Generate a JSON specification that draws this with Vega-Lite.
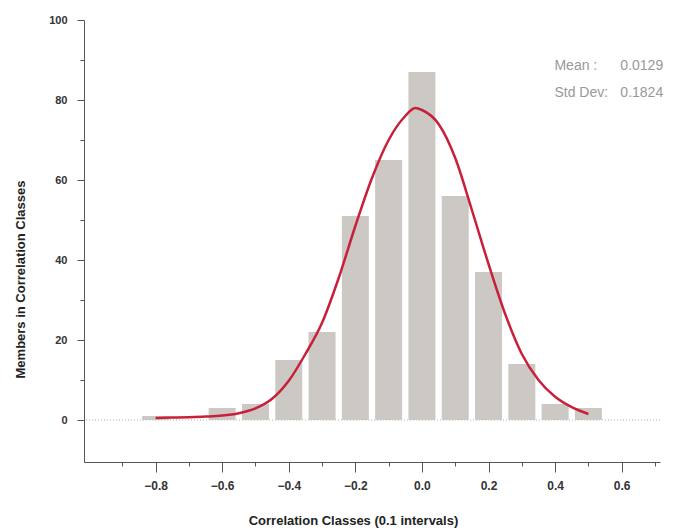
{
  "$schema": "https://vega.github.io/schema/vega-lite/v6.json",
  "width": 576,
  "height": 442,
  "autosize": {"type": "none"},
  "padding": {"left": 84, "top": 20, "right": 16, "bottom": 68},
  "background": "white",
  "config": {"view": {"stroke": null}, "font": "Liberation Sans"},
  "datasets": {
    "bars": [
      {"cls": -0.8, "count": 1},
      {"cls": -0.6, "count": 3},
      {"cls": -0.5, "count": 4},
      {"cls": -0.4, "count": 15},
      {"cls": -0.3, "count": 22},
      {"cls": -0.2, "count": 51},
      {"cls": -0.1, "count": 65},
      {"cls": 0.0, "count": 87},
      {"cls": 0.1, "count": 56},
      {"cls": 0.2, "count": 37},
      {"cls": 0.3, "count": 14},
      {"cls": 0.4, "count": 4},
      {"cls": 0.5, "count": 3}
    ],
    "curve": [
      {"x": -0.8, "y": 0.5},
      {"x": -0.75, "y": 0.6},
      {"x": -0.7, "y": 0.7},
      {"x": -0.65, "y": 0.85},
      {"x": -0.6, "y": 1.1},
      {"x": -0.55, "y": 1.7},
      {"x": -0.5, "y": 2.9},
      {"x": -0.45, "y": 5.3},
      {"x": -0.4, "y": 9.8},
      {"x": -0.35, "y": 16.5},
      {"x": -0.3, "y": 24.3},
      {"x": -0.25, "y": 35.5},
      {"x": -0.2, "y": 48.5},
      {"x": -0.15, "y": 60.5},
      {"x": -0.1, "y": 70},
      {"x": -0.05, "y": 76},
      {"x": -0.02, "y": 78},
      {"x": 0.0, "y": 77.5},
      {"x": 0.05, "y": 74},
      {"x": 0.1, "y": 65.5},
      {"x": 0.15, "y": 52.5},
      {"x": 0.2, "y": 39},
      {"x": 0.25, "y": 26.5},
      {"x": 0.3, "y": 16.5},
      {"x": 0.35, "y": 10},
      {"x": 0.4, "y": 5.8},
      {"x": 0.45, "y": 3.2},
      {"x": 0.5, "y": 1.5}
    ],
    "stats": [
      {"stat": "Mean :", "value": "0.0129"},
      {"stat": "Std Dev:", "value": "0.1824"}
    ],
    "zero": [{"level": 0}]
  },
  "resolve": {"axis": {"x": "independent"}},
  "layer": [
    {
      "data": {"name": "zero"},
      "mark": {"type": "rule", "color": "#b0b0b0", "strokeDash": [1, 2], "strokeWidth": 1},
      "encoding": {
        "y": {"field": "level", "type": "quantitative", "scale": {"domain": [-10.5, 100], "nice": false}}
      }
    },
    {
      "data": {"name": "bars"},
      "mark": {"type": "bar", "width": 27, "color": "#ccc8c4"},
      "encoding": {
        "x": {
          "field": "cls",
          "type": "quantitative",
          "scale": {"domain": [-1.0, 0.7], "nice": false, "zero": false},
          "axis": {
            "orient": "bottom",
            "values": [-0.9, -0.8, -0.7, -0.6, -0.5, -0.4, -0.3, -0.2, -0.1, 0, 0.1, 0.2, 0.3, 0.4, 0.5, 0.6, 0.7],
            "labelExpr": "abs(round(datum.value*10)) % 2 == 0 ? format(datum.value, '.1f') : ''",
            "tickSize": {"condition": {"test": "abs(round(datum.value*10)) % 2 == 0", "value": 10}, "value": 4},
            "title": "Correlation Classes (0.1 intervals)",
            "titleFontSize": 13,
            "titleFontWeight": "bold",
            "titleColor": "#222",
            "titleX": 269,
            "titleY": 58,
            "titleBaseline": "middle",
            "labelFontSize": 12,
            "labelFontWeight": "bold",
            "labelColor": "#333",
            "labelPadding": 8,
            "labelFlush": false,
            "labelOverlap": false,
            "domainColor": "#555",
            "tickColor": "#555",
            "grid": false
          }
        },
        "y": {
          "field": "count",
          "type": "quantitative",
          "scale": {"domain": [-10.5, 100], "nice": false},
          "axis": {
            "values": [0, 10, 20, 30, 40, 50, 60, 70, 80, 90, 100],
            "labelExpr": "datum.value % 20 == 0 ? datum.label : ''",
            "tickSize": {"condition": {"test": "datum.value % 20 == 0", "value": 7}, "value": 4},
            "title": "Members in Correlation Classes",
            "titleFontSize": 13,
            "titleFontWeight": "bold",
            "titleColor": "#222",
            "titleX": -64,
            "titleY": 259,
            "titleBaseline": "middle",
            "labelFontSize": 11,
            "labelFontWeight": "bold",
            "labelColor": "#333",
            "labelPadding": 10,
            "labelFlush": false,
            "domainColor": "#555",
            "tickColor": "#555",
            "grid": false
          }
        }
      }
    },
    {
      "data": {"name": "curve"},
      "mark": {"type": "line", "color": "#c8203a", "strokeWidth": 2.5, "interpolate": "monotone"},
      "encoding": {
        "x": {"field": "x", "type": "quantitative", "scale": {"domain": [-1.0, 0.7], "nice": false, "zero": false}, "axis": null},
        "y": {"field": "y", "type": "quantitative", "scale": {"domain": [-10.5, 100], "nice": false}}
      }
    },
    {
      "data": {"name": "stats"},
      "transform": [{"filter": "datum.stat == 'Mean :'"}],
      "mark": {"type": "text", "align": "left", "baseline": "middle", "fontSize": 14, "color": "#999"},
      "encoding": {
        "x": {"datum": 0.398, "type": "quantitative", "axis": null},
        "y": {"datum": 88.5, "type": "quantitative"},
        "text": {"field": "stat"}
      }
    },
    {
      "data": {"name": "stats"},
      "transform": [{"filter": "datum.stat == 'Mean :'"}],
      "mark": {"type": "text", "align": "left", "baseline": "middle", "fontSize": 14, "color": "#999"},
      "encoding": {
        "x": {"datum": 0.596, "type": "quantitative", "axis": null},
        "y": {"datum": 88.5, "type": "quantitative"},
        "text": {"field": "value"}
      }
    },
    {
      "data": {"name": "stats"},
      "transform": [{"filter": "datum.stat == 'Std Dev:'"}],
      "mark": {"type": "text", "align": "left", "baseline": "middle", "fontSize": 14, "color": "#999"},
      "encoding": {
        "x": {"datum": 0.398, "type": "quantitative", "axis": null},
        "y": {"datum": 81.8, "type": "quantitative"},
        "text": {"field": "stat"}
      }
    },
    {
      "data": {"name": "stats"},
      "transform": [{"filter": "datum.stat == 'Std Dev:'"}],
      "mark": {"type": "text", "align": "left", "baseline": "middle", "fontSize": 14, "color": "#999"},
      "encoding": {
        "x": {"datum": 0.596, "type": "quantitative", "axis": null},
        "y": {"datum": 81.8, "type": "quantitative"},
        "text": {"field": "value"}
      }
    }
  ]
}
